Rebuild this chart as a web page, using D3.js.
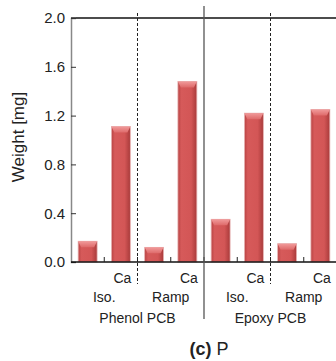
<!DOCTYPE html>
<html>
<head>
<meta charset="utf-8">
<script src="https://cdn.jsdelivr.net/npm/d3@7"></script>
<style>
  body { margin: 0; background: #fff; }
  text { font-family: "Liberation Sans", Arial, sans-serif; fill: #222; }
</style>
</head>
<body>
<div id="chart"></div>
<script>
const groups = ['Phenol PCB', 'Epoxy PCB'];
const conditions = ['Iso.', 'Ramp'];
const withoutCa = [0.17, 0.12, 0.35, 0.15];
const withCa = [1.11, 1.48, 1.22, 1.25];
const yTicks = [0, 0.4, 0.8, 1.2, 1.6, 2.0];

const width = 336, height = 361;
const margin = { top: 18, right: -1, bottom: 99, left: 71 };

// flatten into bars: each condition has a "no Ca" and a "Ca" bar
const bars = [];
groups.forEach((g, gi) => {
  conditions.forEach((c, ci) => {
    const k = gi * 2 + ci;
    bars.push({ key: `${g}|${c}|0`, group: g, cond: c, ca: false, value: withoutCa[k] });
    bars.push({ key: `${g}|${c}|1`, group: g, cond: c, ca: true, value: withCa[k] });
  });
});

const svg = d3.select('#chart').append('svg')
  .attr('width', width)
  .attr('height', height);

const defs = svg.append('defs');
const grad = defs.append('linearGradient').attr('id', 'barGrad')
  .attr('x1', '0%').attr('x2', '100%').attr('y1', '0%').attr('y2', '0%');
grad.append('stop').attr('offset', '0%').attr('stop-color', '#b84444');
grad.append('stop').attr('offset', '18%').attr('stop-color', '#d65a5a');
grad.append('stop').attr('offset', '70%').attr('stop-color', '#d35656');
grad.append('stop').attr('offset', '100%').attr('stop-color', '#a83a3a');

const capGrad = defs.append('linearGradient').attr('id', 'capGrad')
  .attr('x1', '0%').attr('x2', '0%').attr('y1', '0%').attr('y2', '100%');
capGrad.append('stop').attr('offset', '0%').attr('stop-color', '#f19a9a');
capGrad.append('stop').attr('offset', '100%').attr('stop-color', '#de6a6a');

const x = d3.scaleBand()
  .domain(bars.map(d => d.key))
  .range([margin.left, width - margin.right])
  .paddingInner(0.43)
  .paddingOuter(0.215);

const y = d3.scaleLinear()
  .domain([0, 2])
  .range([height - margin.bottom, margin.top]);

const step = x.step();
const x0 = margin.left;
const yBase = y(0);

// top frame line
svg.append('line')
  .attr('x1', x0).attr('x2', width)
  .attr('y1', y(2)).attr('y2', y(2))
  .attr('stroke', '#111').attr('stroke-width', 1.3);

// bars
const g = svg.append('g');
g.selectAll('.bar')
  .data(bars)
  .enter().append('rect')
  .attr('class', 'bar')
  .attr('x', d => x(d.key))
  .attr('y', d => y(d.value))
  .attr('width', x.bandwidth())
  .attr('height', d => yBase - y(d.value))
  .attr('fill', 'url(#barGrad)')
  .attr('stroke', '#e7b4b4')
  .attr('stroke-width', 0.8);

// bevelled top of each bar
g.selectAll('.cap')
  .data(bars)
  .enter().append('path')
  .attr('class', 'cap')
  .attr('d', d => {
    const l = x(d.key), r = l + x.bandwidth(), t = y(d.value);
    return `M${l},${t}L${r},${t}L${r - 3},${t + 6}L${l + 3},${t + 6}Z`;
  })
  .attr('fill', 'url(#capGrad)');

// y axis, ticks pointing into the plot
const yAxis = svg.append('g')
  .attr('transform', `translate(${x0},0)`)
  .call(d3.axisLeft(y).tickValues(yTicks).tickFormat(d3.format('.1f')).tickSize(-5).tickPadding(6));
yAxis.select('.domain').attr('stroke', '#888').attr('stroke-width', 1.5);
yAxis.selectAll('.tick line').attr('stroke', '#333');
yAxis.selectAll('.tick text')
  .attr('font-size', 15)
  .attr('fill', '#333')
  .attr('font-family', '"Liberation Sans", Arial, sans-serif');

// baseline
svg.append('line')
  .attr('x1', x0).attr('x2', width)
  .attr('y1', yBase).attr('y2', yBase)
  .attr('stroke', '#111').attr('stroke-width', 1.3);

// minor ticks between bars
const tickXs = d3.range(1, bars.length).map(i => x0 + i * step);
svg.selectAll('.xtick')
  .data(tickXs)
  .enter().append('line')
  .attr('x1', d => d).attr('x2', d => d)
  .attr('y1', yBase).attr('y2', yBase - 5)
  .attr('stroke', '#222');

// solid separator between PCB types
svg.append('line')
  .attr('x1', x0 + 4 * step).attr('x2', x0 + 4 * step)
  .attr('y1', 6).attr('y2', 319)
  .attr('stroke', '#555').attr('stroke-width', 1.3);

// dashed separators between Iso./Ramp
[2, 6].forEach(i => {
  svg.append('line')
    .attr('x1', x0 + i * step).attr('x2', x0 + i * step)
    .attr('y1', 13).attr('y2', 284)
    .attr('stroke', '#222')
    .attr('stroke-dasharray', '3,2');
});

// "Ca" labels under the Ca bars
svg.selectAll('.caLabel')
  .data(bars.filter(d => d.ca))
  .enter().append('text')
  .attr('x', d => x(d.key) + x.bandwidth() + 1)
  .attr('y', 283)
  .attr('text-anchor', 'end')
  .attr('font-size', 14)
  .text('Ca');

// condition labels
const condLabels = [];
groups.forEach((gname, gi) => conditions.forEach((c, ci) => condLabels.push({ text: c, i: gi * 2 + ci })));
svg.selectAll('.condLabel')
  .data(condLabels)
  .enter().append('text')
  .attr('x', d => x0 + (d.i * 2 + 1) * step)
  .attr('y', 302)
  .attr('text-anchor', 'middle')
  .attr('font-size', 14)
  .text(d => d.text);

// group labels
svg.selectAll('.groupLabel')
  .data(groups)
  .enter().append('text')
  .attr('x', (d, i) => x0 + (i * 4 + 2) * step)
  .attr('y', 323)
  .attr('text-anchor', 'middle')
  .attr('font-size', 14)
  .text(d => d);

// y title
svg.append('text')
  .attr('transform', `translate(24,${137}) rotate(-90)`)
  .attr('text-anchor', 'middle')
  .attr('font-size', 17)
  .text('Weight [mg]');

// panel caption
const cap = svg.append('text')
  .attr('x', 209)
  .attr('y', 355)
  .attr('text-anchor', 'middle')
  .attr('font-size', 18);
cap.append('tspan').attr('font-weight', 'bold').text('(c)');
cap.append('tspan').text(' P');
</script>
</body>
</html>
